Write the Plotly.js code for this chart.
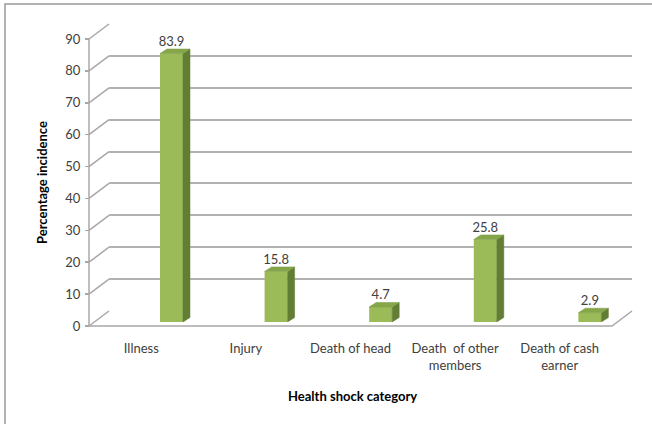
<!DOCTYPE html>
<html><head><meta charset="utf-8">
<script src="https://cdn.plot.ly/plotly-3.0.1.min.js"></script>
<style>html,body{margin:0;padding:0;background:#fff}#chart{width:652px;height:424px}</style>
</head><body><div id="chart"></div>
<script>
// ---- data ----
const categories = ["Illness", "Injury", "Death of head", "Death\u00a0 of other<br>members", "Death of cash<br>earner"];
const values = [83.9, 15.8, 4.7, 25.8, 2.9];
const valueLabels = ["83.9", "15.8", "4.7", "25.8", "2.9"];
const yTicks = [0, 10, 20, 30, 40, 50, 60, 70, 80, 90];
const xTitle = "Health shock category";
const yTitle = "Percentage incidence";

// ---- geometry (px) ----
const W = 652, H = 424;
const fx = px => px / W, fy = py => 1 - py / H;
const FONT = "Lato, 'Liberation Sans', sans-serif";
const FS = 13;
const catStep = 104.6;            // px per category
const frontLeft = 89, frontZero = 326, scale = 287 / 90; // px per unit on front/back planes
const depthDx = 20, depthDy = 15; // wall depth
const barZero = 322, barLeft = 119.2, barScale = 3.2;
const sideDxPx = 7, sideDyPx = 4.5, barWidth = 0.22;

const catIdx = categories.map((c, i) => i);
const nCat = categories.length;

// front frame subplot ranges (domain padded a few px)
const f2x = px => -0.5 + (px - frontLeft) / catStep;
const f2y = py => (frontZero - py) / scale;
const dPad = 4;

// front frame lines (tick-to-wall diagonals, front axis, floor)
const ddx = depthDx / catStep, ddy = depthDy / scale;
const lx = [], ly = [];
yTicks.forEach(v => { lx.push(-0.5, -0.5 + ddx, null); ly.push(v, v + ddy, null); });
lx.push(-0.5, -0.5, null); ly.push(yTicks[0], yTicks[yTicks.length - 1], null);
lx.push(-0.5, nCat - 0.5, nCat - 0.5 + ddx); ly.push(0, 0, ddy);

// 3-D bar faces
const hw = barWidth / 2, sdx = sideDxPx / catStep, sdy = sideDyPx / barScale;
const sx = [], sy = [], tx = [], ty = [];
values.forEach((v, i) => {
  sx.push(i + hw, i + hw + sdx, i + hw + sdx, i + hw, i + hw, null);
  sy.push(0, sdy, v + sdy, v, 0, null);
  tx.push(i - hw, i + hw, i + hw + sdx, i - hw + sdx, i - hw, null);
  ty.push(v, v, v + sdy, v + sdy, v, null);
});

const gridColor = "#b2b2b2";
const textColor = "#404040";

const traces = [
  { type: "scatter", x: catIdx, y: values, mode: "markers", marker: { opacity: 0 },
    xaxis: "x", yaxis: "y", hoverinfo: "skip", showlegend: false },
  { type: "scatter", x: lx, y: ly, mode: "lines", line: { color: "#a8a8a8", width: 1.5 },
    xaxis: "x2", yaxis: "y2", hoverinfo: "skip", showlegend: false, cliponaxis: false, connectgaps: false },
  { type: "bar", x: catIdx, y: values, width: barWidth, marker: { color: "#9bbb59", line: { width: 0 } },
    xaxis: "x3", yaxis: "y3", hoverinfo: "skip", showlegend: false },
  { type: "scatter", x: sx, y: sy, mode: "lines", fill: "toself", fillcolor: "#627d34",
    line: { color: "#627d34", width: 0.5 }, xaxis: "x3", yaxis: "y3", hoverinfo: "skip", showlegend: false, connectgaps: false },
  { type: "scatter", x: tx, y: ty, mode: "lines", fill: "toself", fillcolor: "#86a64a",
    line: { color: "#7a9a40", width: 0.5 }, xaxis: "x3", yaxis: "y3", hoverinfo: "skip", showlegend: false, connectgaps: false },
  { type: "scatter", x: catIdx, y: values.map(v => v + sdy), text: valueLabels, mode: "text",
    textposition: "top center", textfont: { family: FONT, size: FS, color: textColor },
    xaxis: "x3", yaxis: "y3", hoverinfo: "skip", showlegend: false, cliponaxis: false }
];

const hidden = { showgrid: false, zeroline: false, showline: false, showticklabels: false, ticks: "", fixedrange: true };

const layout = {
  width: W, height: H,
  margin: { l: 0, r: 0, t: 0, b: 0, pad: 0 },
  paper_bgcolor: "#ffffff", plot_bgcolor: "rgba(0,0,0,0)",
  showlegend: false,
  font: { family: FONT, size: FS, color: textColor },
  // back wall
  xaxis: Object.assign({}, hidden, { domain: [fx(109), fx(632)], range: [-0.5, nCat - 0.5], anchor: "y" }),
  yaxis: Object.assign({}, hidden, { domain: [fy(311), fy(24)], range: [0, 90], anchor: "x",
    showgrid: true, tickvals: yTicks, gridcolor: gridColor, gridwidth: 2 }),
  // front frame
  xaxis2: Object.assign({}, hidden, { domain: [fx(frontLeft - dPad), fx(632 + dPad)],
    range: [f2x(frontLeft - dPad), f2x(632 + dPad)], anchor: "free", position: fy(frontZero),
    showticklabels: true, tickvals: catIdx, ticktext: categories, ticklabelstandoff: 13,
    tickfont: { family: FONT, size: FS, color: textColor } }),
  yaxis2: Object.assign({}, hidden, { domain: [fy(frontZero + dPad), fy(20)],
    range: [f2y(frontZero + dPad), f2y(20)], anchor: "free", position: fx(frontLeft),
    showticklabels: true, tickvals: yTicks, ticks: "outside", ticklen: 4, tickwidth: 1.5, tickcolor: "#a8a8a8",
    ticklabelstandoff: 2, tickfont: { family: FONT, size: FS, color: textColor } }),
  // bars
  xaxis3: Object.assign({}, hidden, { domain: [fx(barLeft), fx(barLeft + catStep * nCat)], range: [-0.5, nCat - 0.5], anchor: "y3" }),
  yaxis3: Object.assign({}, hidden, { domain: [fy(barZero), fy(20)], range: [0, (barZero - 20) / barScale], anchor: "x3" }),
  annotations: [
    { text: "<b>" + yTitle + "</b>", xref: "paper", yref: "paper", x: fx(42), y: fy(183),
      xanchor: "center", yanchor: "middle", textangle: -90, showarrow: false,
      font: { family: FONT, size: FS, color: "#000" } },
    { text: "<b>" + xTitle + "</b>", xref: "paper", yref: "paper", x: fx(352), y: fy(396),
      xanchor: "center", yanchor: "middle", showarrow: false,
      font: { family: FONT, size: FS, color: "#000" } }
  ],
  shapes: [
    { type: "rect", xref: "paper", yref: "paper", x0: fx(5), x1: 1.05, y0: -0.05, y1: fy(4),
      line: { color: "#999999", width: 1.5 }, fillcolor: "rgba(0,0,0,0)", layer: "below" }
  ]
};

Plotly.newPlot("chart", traces, layout, { staticPlot: true, displayModeBar: false });
</script>
</body></html>
